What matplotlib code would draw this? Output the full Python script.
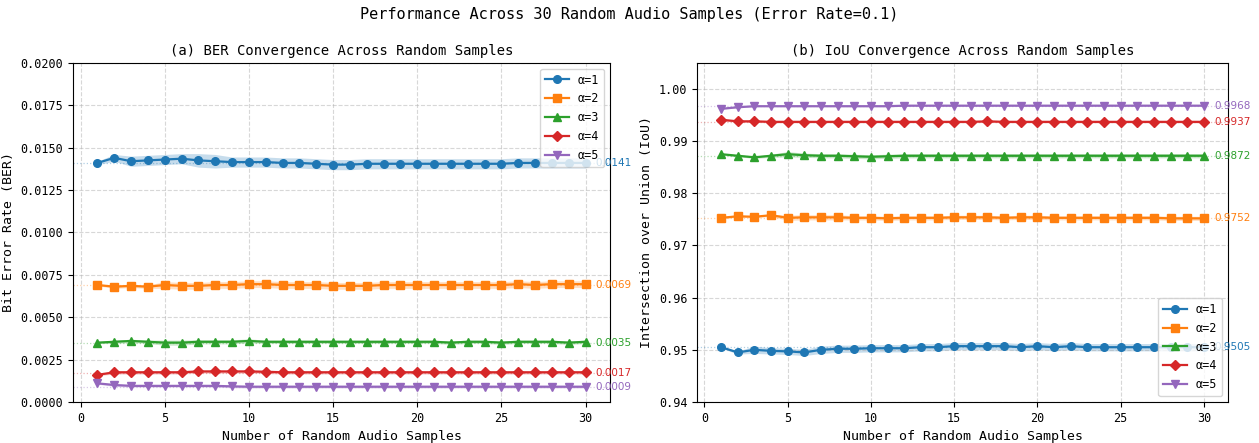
import numpy as np
import matplotlib
matplotlib.use("Agg")
import matplotlib.pyplot as plt

plt.rcParams['font.family'] = ['DejaVu Sans Mono', 'DejaVu Sans']

# Données
samples = list(range(1, 31))
labels = ["α=1", "α=2", "α=3", "α=4", "α=5"]
colors = ["#1f77b4", "#ff7f0e", "#2ca02c", "#d62728", "#9467bd"]
markers = ["o", "s", "^", "D", "v"]

ber_a1 = [0.0141, 0.0144, 0.0142, 0.01425, 0.0143, 0.01435, 0.01425, 0.0142, 0.01415, 0.01415,
          0.01415, 0.0141, 0.0141, 0.01405, 0.0140, 0.0140, 0.01405, 0.01405, 0.01405, 0.01405,
          0.01405, 0.01405, 0.01405, 0.01405, 0.01405, 0.0141, 0.0141, 0.0141, 0.0141, 0.0141]
ber_a2 = [0.0069, 0.0068, 0.00685, 0.0068, 0.0069, 0.00685, 0.00685, 0.0069, 0.0069, 0.00695,
          0.00695, 0.0069, 0.0069, 0.0069, 0.00685, 0.00685, 0.00685, 0.0069, 0.0069, 0.0069,
          0.0069, 0.0069, 0.0069, 0.0069, 0.0069, 0.00695, 0.0069, 0.00695, 0.00695, 0.00695]
ber_a3 = [0.0035, 0.00355, 0.0036, 0.00355, 0.0035, 0.0035, 0.00355, 0.00355, 0.00355, 0.0036,
          0.00355, 0.00355, 0.00355, 0.00355, 0.00355, 0.00355, 0.00355, 0.00355, 0.00355, 0.00355,
          0.00355, 0.0035, 0.00355, 0.00355, 0.0035, 0.00355, 0.00355, 0.00355, 0.0035, 0.00355]
ber_a4 = [0.0016, 0.00175, 0.00175, 0.00175, 0.00175, 0.00175, 0.0018, 0.0018, 0.0018, 0.0018,
          0.00178, 0.00175, 0.00175, 0.00175, 0.00175, 0.00175, 0.00175, 0.00175, 0.00175, 0.00175,
          0.00175, 0.00175, 0.00175, 0.00175, 0.00175, 0.00175, 0.00175, 0.00175, 0.00175, 0.00175]
ber_a5 = [0.0011, 0.001, 0.00095, 0.00095, 0.00095, 0.00095, 0.00095, 0.00095, 0.00092, 0.0009,
          0.0009, 0.0009, 0.0009, 0.0009, 0.0009, 0.0009, 0.0009, 0.0009, 0.0009, 0.0009,
          0.0009, 0.0009, 0.0009, 0.0009, 0.0009, 0.0009, 0.0009, 0.0009, 0.0009, 0.0009]

ber_sd_a1 = [0.0001, 0.0002, 0.0003, 0.0003, 0.0003, 0.0003, 0.0004, 0.0004, 0.0003, 0.0003,
             0.0003, 0.0003, 0.0003, 0.0003, 0.0003, 0.0003, 0.0003, 0.0003, 0.0003, 0.0003,
             0.0003, 0.0003, 0.0003, 0.0003, 0.0003, 0.0003, 0.0003, 0.0003, 0.0003, 0.0003]
ber_sd_a2 = [0.00005, 0.0001, 0.0001, 0.0001, 0.0002, 0.0002, 0.0002, 0.0002, 0.0002, 0.0002,
             0.0002, 0.0002, 0.0002, 0.0002, 0.0002, 0.0002, 0.0002, 0.0002, 0.0002, 0.0002,
             0.0002, 0.0002, 0.0002, 0.0002, 0.0002, 0.0002, 0.0002, 0.0002, 0.0002, 0.0002]
ber_sd_a3 = [0.00005, 0.0001, 0.0001, 0.0001, 0.00015, 0.00015, 0.00012, 0.00012, 0.00012, 0.00012,
             0.0001, 0.0001, 0.0001, 0.0001, 0.0001, 0.0001, 0.0001, 0.0001, 0.0001, 0.0001,
             0.0001, 0.0001, 0.0001, 0.0001, 0.0001, 0.0001, 0.0001, 0.0001, 0.0001, 0.0001]
ber_sd_a4 = [0.00005, 0.0001, 0.0001, 0.0001, 0.0001, 0.0001, 0.0001, 0.0001, 0.0001, 0.0001,
             0.0001, 0.0001, 0.0001, 0.0001, 0.0001, 0.0001, 0.0001, 0.0001, 0.0001, 0.0001,
             0.0001, 0.0001, 0.0001, 0.0001, 0.0001, 0.0001, 0.0001, 0.0001, 0.0001, 0.0001]
ber_sd_a5 = [0.00005, 0.00008, 0.00008, 0.00008, 0.00008, 0.00008, 0.00008, 0.00008, 0.00008, 0.00008,
             0.00008, 0.00008, 0.00008, 0.00008, 0.00008, 0.00008, 0.00008, 0.00008, 0.00008, 0.00008,
             0.00008, 0.00008, 0.00008, 0.00008, 0.00008, 0.00008, 0.00008, 0.00008, 0.00008, 0.00008]

iou_a1 = [0.9505, 0.9495, 0.9500, 0.9498, 0.9497, 0.9495, 0.9500, 0.9502, 0.9502, 0.9503,
          0.9503, 0.9503, 0.9505, 0.9505, 0.9507, 0.9507, 0.9507, 0.9507, 0.9505, 0.9507,
          0.9505, 0.9507, 0.9505, 0.9505, 0.9505, 0.9505, 0.9505, 0.9505, 0.9505, 0.9505]
iou_a2 = [0.9753, 0.9756, 0.9755, 0.9758, 0.9753, 0.9754, 0.9754, 0.9754, 0.9753, 0.9753,
          0.9752, 0.9753, 0.9753, 0.9753, 0.9754, 0.9754, 0.9754, 0.9753, 0.9754, 0.9754,
          0.9753, 0.9753, 0.9753, 0.9753, 0.9753, 0.9753, 0.9753, 0.9752, 0.9752, 0.9752]
iou_a3 = [0.9875, 0.9872, 0.9869, 0.9872, 0.9875, 0.9873, 0.9872, 0.9872, 0.9871, 0.9870,
          0.9871, 0.9872, 0.9872, 0.9872, 0.9872, 0.9872, 0.9872, 0.9872, 0.9872, 0.9872,
          0.9872, 0.9872, 0.9872, 0.9872, 0.9872, 0.9872, 0.9872, 0.9872, 0.9872, 0.9872]
iou_a4 = [0.9941, 0.9938, 0.9938, 0.9937, 0.9937, 0.9937, 0.9937, 0.9937, 0.9937, 0.9937,
          0.9937, 0.9937, 0.9937, 0.9937, 0.9937, 0.9937, 0.9938, 0.9937, 0.9937, 0.9937,
          0.9937, 0.9937, 0.9937, 0.9937, 0.9937, 0.9937, 0.9937, 0.9937, 0.9937, 0.9937]
iou_a5 = [0.9962, 0.9965, 0.9967, 0.9967, 0.9967, 0.9967, 0.9967, 0.9967, 0.9967, 0.9967,
          0.9967, 0.9968, 0.9968, 0.9968, 0.9968, 0.9968, 0.9968, 0.9968, 0.9968, 0.9968,
          0.9968, 0.9968, 0.9968, 0.9968, 0.9968, 0.9968, 0.9968, 0.9968, 0.9968, 0.9968]

iou_sd_a1 = [0.0002, 0.0003, 0.0007, 0.0006, 0.0006, 0.0006, 0.0007, 0.0007, 0.0007, 0.0007,
             0.0007, 0.0007, 0.0007, 0.0007, 0.0007, 0.0007, 0.0007, 0.0007, 0.0007, 0.0007,
             0.0007, 0.0007, 0.0007, 0.0007, 0.0007, 0.0007, 0.0007, 0.0007, 0.0007, 0.0007]
iou_sd_a2 = [0.0002, 0.0002, 0.0002, 0.0002, 0.0005, 0.0005, 0.0005, 0.0005, 0.0004, 0.0004,
             0.0004, 0.0004, 0.0004, 0.0004, 0.0004, 0.0004, 0.0004, 0.0004, 0.0004, 0.0004,
             0.0004, 0.0004, 0.0004, 0.0004, 0.0004, 0.0004, 0.0004, 0.0004, 0.0004, 0.0004]
iou_sd_a3 = [0.0002, 0.0002, 0.0002, 0.0003, 0.0005, 0.0004, 0.0004, 0.0004, 0.0004, 0.0004,
             0.0004, 0.0004, 0.0004, 0.0004, 0.0004, 0.0004, 0.0004, 0.0004, 0.0004, 0.0004,
             0.0004, 0.0004, 0.0004, 0.0004, 0.0004, 0.0004, 0.0004, 0.0004, 0.0004, 0.0004]
iou_sd_a4 = [0.0002, 0.0002, 0.0002, 0.0002, 0.0002, 0.0002, 0.0002, 0.0002, 0.0002, 0.0002,
             0.0002, 0.0002, 0.0002, 0.0002, 0.0002, 0.0002, 0.0002, 0.0002, 0.0002, 0.0002,
             0.0002, 0.0002, 0.0002, 0.0002, 0.0002, 0.0002, 0.0002, 0.0002, 0.0002, 0.0002]
iou_sd_a5 = [0.0001, 0.0001, 0.0001, 0.0001, 0.0001, 0.0001, 0.0001, 0.0001, 0.0001, 0.0001,
             0.0001, 0.0001, 0.0001, 0.0001, 0.0001, 0.0001, 0.0001, 0.0001, 0.0001, 0.0001,
             0.0001, 0.0001, 0.0001, 0.0001, 0.0001, 0.0001, 0.0001, 0.0001, 0.0001, 0.0001]

ber_final = ["0.0141", "0.0069", "0.0035", "0.0017", "0.0009"]
iou_final = ["0.9505", "0.9752", "0.9872", "0.9937", "0.9968"]

ber = [ber_a1, ber_a2, ber_a3, ber_a4, ber_a5]
ber_sd = [ber_sd_a1, ber_sd_a2, ber_sd_a3, ber_sd_a4, ber_sd_a5]
iou = [iou_a1, iou_a2, iou_a3, iou_a4, iou_a5]
iou_sd = [iou_sd_a1, iou_sd_a2, iou_sd_a3, iou_sd_a4, iou_sd_a5]

fig = plt.figure(figsize=(12.59, 4.43), dpi=100)
ax1 = fig.add_axes([0.058, 0.0926, 0.4265, 0.7654])
ax2 = fig.add_axes([0.5536, 0.0926, 0.4218, 0.7654])


def draw(ax, data, sd, finals, fmt):
    x = np.array(samples)
    for i in range(5):
        y = np.array(data[i])
        s = np.array(sd[i])
        ax.axhline(float(finals[i]), color=colors[i], ls=":", lw=0.9, alpha=0.35)
        ax.fill_between(x, y - s, y + s, color=colors[i], alpha=0.25, lw=0)
        ax.plot(x, y, marker=markers[i], color=colors[i], lw=1.6, ms=5.5, label=labels[i])
        ax.text(30.6, float(finals[i]), finals[i], color=colors[i], fontsize=7.5,
                va="center", ha="left", family="DejaVu Sans")
    ax.grid(True, ls="--", alpha=0.5)
    ax.tick_params(labelsize=8.5)
    ax.yaxis.set_major_formatter(plt.FormatStrFormatter(fmt))


draw(ax1, ber, ber_sd, ber_final, "%.4f")
ax1.set_ylim(0, 0.02)
ax1.set_yticks(np.arange(0, 0.0201, 0.0025))
ax1.set_title("(a) BER Convergence Across Random Samples", fontsize=10)
ax1.set_xlabel("Number of Random Audio Samples", fontsize=9.5)
ax1.set_ylabel("Bit Error Rate (BER)", fontsize=9.5)
ax1.legend(loc="upper right", fontsize=8.5)

draw(ax2, iou, iou_sd, iou_final, "%.2f")
ax2.set_ylim(0.94, 1.005)
ax2.set_title("(b) IoU Convergence Across Random Samples", fontsize=10)
ax2.set_xlabel("Number of Random Audio Samples", fontsize=9.5)
ax2.set_ylabel("Intersection over Union (IoU)", fontsize=9.5)
ax2.legend(loc="lower right", fontsize=8.5)

fig.suptitle("Performance Across 30 Random Audio Samples (Error Rate=0.1)", fontsize=11, y=0.985)

fig.savefig("out.png", dpi=100)
